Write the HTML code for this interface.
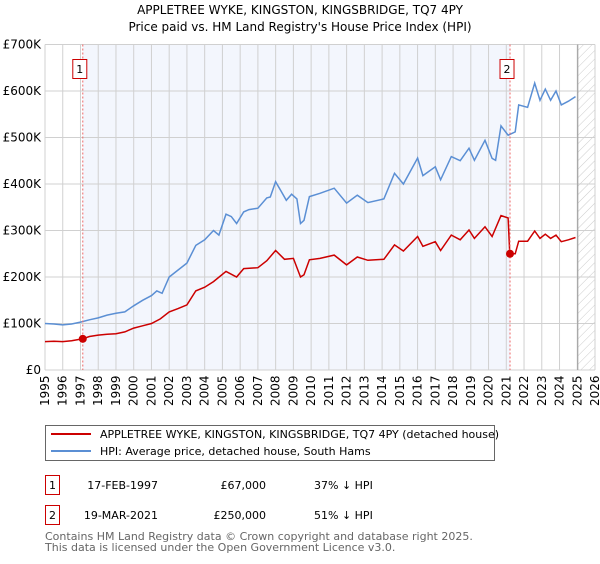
<!DOCTYPE html>
<html><head><meta charset="utf-8"><style>
body{margin:0;background:#fff;font-family:"DejaVu Sans","Liberation Sans",sans-serif;}
svg text{font-family:"DejaVu Sans","Liberation Sans",sans-serif;}
</style></head><body>
<svg id="chart" width="600" height="560" xmlns="http://www.w3.org/2000/svg">
<defs><pattern id="hatch" width="6" height="6" patternUnits="userSpaceOnUse" patternTransform="rotate(45)"><line x1="0" y1="0" x2="0" y2="6" stroke="#ccc" stroke-width="1"/></pattern></defs>
<text x="300" y="14" text-anchor="middle" font-size="12">APPLETREE WYKE, KINGSTON, KINGSBRIDGE, TQ7 4PY</text>
<text x="300" y="31" text-anchor="middle" font-size="12">Price paid vs. HM Land Registry's House Price Index (HPI)</text>
<g id="plot"></g>
<g>
<rect x="45.5" y="425.5" width="449" height="35" fill="#fff" stroke="#666"/>
<line x1="51" y1="434" x2="91" y2="434" stroke="#cc0000" stroke-width="2"/>
<text x="100" y="438" font-size="11">APPLETREE WYKE, KINGSTON, KINGSBRIDGE, TQ7 4PY (detached house)</text>
<line x1="51" y1="451" x2="91" y2="451" stroke="#5b8fd4" stroke-width="2"/>
<text x="100" y="455" font-size="11">HPI: Average price, detached house, South Hams</text>
</g>
<g font-size="11">
<rect x="45.5" y="475.5" width="14" height="19" fill="#fff" stroke="#cc0000"/>
<text x="52.5" y="489" text-anchor="middle">1</text>
<text x="158" y="489" text-anchor="end">17-FEB-1997</text>
<text x="266" y="489" text-anchor="end">£67,000</text>
<text x="314" y="489">37% ↓ HPI</text>
<rect x="45.5" y="505.5" width="14" height="19" fill="#fff" stroke="#cc0000"/>
<text x="52.5" y="519" text-anchor="middle">2</text>
<text x="158" y="519" text-anchor="end">19-MAR-2021</text>
<text x="266" y="519" text-anchor="end">£250,000</text>
<text x="314" y="519">51% ↓ HPI</text>
</g>
<text x="45" y="540" font-size="11" fill="#666">Contains HM Land Registry data © Crown copyright and database right 2025.</text>
<text x="45" y="551" font-size="11" fill="#666">This data is licensed under the Open Government Licence v3.0.</text>
</svg>
<script>
const hpiYears=[1995,1995.5,1996,1996.5,1997,1997.5,1998,1998.5,1999,1999.5,2000,2000.5,2001,2001.3,2001.6,2002,2002.5,2003,2003.5,2004,2004.5,2004.8,2005.2,2005.5,2005.8,2006.2,2006.5,2007,2007.5,2007.7,2008.0,2008.3,2008.6,2008.9,2009.2,2009.4,2009.6,2009.9,2010.5,2011.3,2012,2012.6,2013.2,2014.1,2014.7,2015.2,2016,2016.3,2017,2017.3,2017.9,2018.4,2018.9,2019.2,2019.8,2020.2,2020.4,2020.7,2021.1,2021.5,2021.7,2022.2,2022.6,2022.9,2023.2,2023.5,2023.8,2024.1,2024.5,2024.9];
const hpiValues=[100,99,97,99,103,108,112,118,122,125,138,150,160,170,165,200,215,230,268,280,300,290,335,330,315,340,345,348,370,372,405,385,365,378,368,315,322,373,380,391,359,376,360,368,423,400,456,418,437,409,459,450,477,451,494,455,451,525,505,512,570,565,617,580,604,580,600,570,578,588];
const ppYears=[1995,1995.5,1996,1996.5,1997.13,1997.5,1998,1998.5,1999,1999.5,2000,2000.5,2001,2001.5,2002,2002.5,2003,2003.5,2004,2004.5,2005.2,2005.8,2006.2,2007,2007.5,2008.0,2008.5,2009.0,2009.4,2009.6,2009.9,2010.5,2011.3,2012,2012.6,2013.2,2014.1,2014.7,2015.2,2016,2016.3,2017,2017.3,2017.9,2018.4,2018.9,2019.2,2019.8,2020.2,2020.7,2021.1,2021.2,2021.5,2021.7,2022.2,2022.6,2022.9,2023.2,2023.5,2023.8,2024.1,2024.5,2024.9];
const ppValues=[61,62,61,63,67,72,75,77,78,82,90,95,100,110,125,132,140,170,178,190,212,200,218,220,235,257,238,240,200,205,237,240,247,226,243,236,238,269,256,287,266,276,257,290,280,301,283,308,287,332,327,250,250,277,277,299,283,292,283,290,276,280,285];
const saleYears=[1997.13,2021.21];
const saleValues=[67,250];
const saleLabels=["1","2"];
const yTicks=[0,100,200,300,400,500,600,700];
const yTickLabels=["£0","£100K","£200K","£300K","£400K","£500K","£600K","£700K"];
const xTicks=[];for(let y=1995;y<=2026;y++)xTicks.push(y);

const L=45,R=595,T=44.5,B=370,X0=1995,X1=2026,YMAX=700;
const sx=v=>L+(v-X0)/(X1-X0)*(R-L);
const sy=v=>B-v/YMAX*(B-T);
const NS="http://www.w3.org/2000/svg";
const g=document.getElementById('plot');
function mk(t,a,p){const e=document.createElementNS(NS,t);for(const k in a)e.setAttribute(k,a[k]);(p||g).appendChild(e);return e;}
let e;
e=mk('rect',{x:sx(saleYears[0]),y:T,width:sx(saleYears[1])-sx(saleYears[0]),height:B-T,fill:'#f3f6fd'});


e=mk('rect',{x:sx(2025.03),y:T,width:R-sx(2025.03),height:B-T,fill:'url(#hatch)'});


xTicks.forEach((y,i)=>{
 e=mk('line',{x1:sx(y),x2:sx(y),y1:T,y2:B,stroke:'#d0d0d0','stroke-width':1});
 
 
 e=mk('text',{transform:`translate(${sx(y)+4},${B+36}) rotate(-90)`,'font-size':12});
 e.textContent=y;
 
 
});
yTicks.forEach((v,i)=>{
 e=mk('line',{x1:L,x2:R,y1:sy(v),y2:sy(v),stroke:'#d0d0d0','stroke-width':1});
 
 
 e=mk('text',{x:L-4,y:sy(v)+4,'text-anchor':'end','font-size':12});
 e.textContent=yTickLabels[i];
 
 
});
e=mk('line',{x1:sx(2025.03),x2:sx(2025.03),y1:T,y2:B,stroke:'#999','stroke-width':1});


function path(xs,vs){return xs.map((x,i)=>(i?'L':'M')+sx(x).toFixed(1)+','+sy(vs[i]).toFixed(1)).join('');}
e=mk('path',{d:path(hpiYears,hpiValues),fill:'none',stroke:'#5b8fd4','stroke-width':1.5});


e=mk('path',{d:path(ppYears,ppValues),fill:'none',stroke:'#cc0000','stroke-width':1.5});


saleYears.forEach((y,i)=>{
 e=mk('line',{x1:sx(y),x2:sx(y),y1:T,y2:B,stroke:'#ee6666','stroke-width':1,'stroke-dasharray':'2,2'});
 
 
 e=mk('circle',{cx:sx(y),cy:sy(saleValues[i]),r:4,fill:'#cc0000'});
 
 
 e=mk('rect',{x:sx(y)-10,y:59.5,width:14,height:19,fill:'#fff',stroke:'#cc0000'});
 
 
 e=mk('text',{x:sx(y)-3,y:73,'text-anchor':'middle','font-size':11});
 e.textContent=saleLabels[i];
 
 
});
</script>
</body></html>
